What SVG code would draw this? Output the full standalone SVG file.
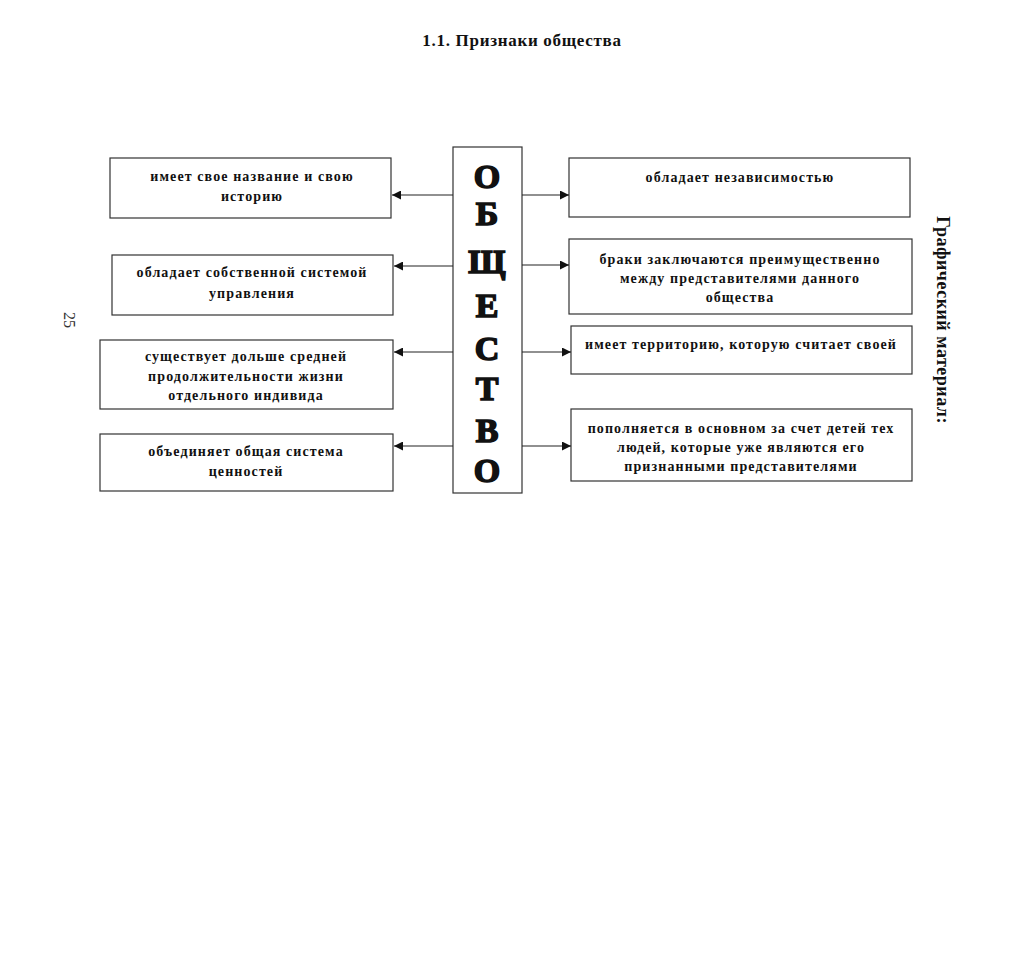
<svg xmlns="http://www.w3.org/2000/svg" width="1020" height="958" viewBox="0 0 1020 958">
<defs>
<marker id="arr" viewBox="0 0 10 10" refX="10" refY="5" markerWidth="12" markerHeight="9" markerUnits="userSpaceOnUse" orient="auto">
<path d="M0,0 L10,5 L0,10 Z" fill="#111"/>
</marker>
</defs>
<style>
.box{fill:#fff;stroke:#333;stroke-width:1.2}
.t{font-family:"Liberation Serif","DejaVu Serif",serif;font-weight:bold;font-size:14px;letter-spacing:1.1px;fill:#111;text-anchor:middle}
.big{font-family:"Liberation Serif","DejaVu Serif",serif;font-weight:bold;font-size:34px;fill:#111;stroke:#111;stroke-width:1.6;text-anchor:middle}
.ln{stroke:#222;stroke-width:1.2;fill:none;marker-end:url(#arr)}
</style>
<rect width="1020" height="958" fill="#fff"/>
<text x="522" y="46" style="font-family:'Liberation Serif',serif;font-weight:bold;font-size:17px;letter-spacing:0.7px;fill:#111;text-anchor:middle">1.1. Признаки общества</text>
<text transform="translate(64,320) rotate(90)" style="font-family:'Liberation Serif',serif;font-size:16px;fill:#333;text-anchor:middle">25</text>
<text transform="translate(937,320) rotate(90)" style="font-family:'Liberation Serif',serif;font-weight:bold;font-size:18px;letter-spacing:0.5px;fill:#111;text-anchor:middle">Графический материал:</text>
<g id="center">
<rect class="box" x="453" y="147" width="69" height="346"/>
<text class="big" x="487" y="188">О</text>
<text class="big" x="487" y="225">Б</text>
<text class="big" x="487" y="273">Щ</text>
<text class="big" x="487" y="317">Е</text>
<text class="big" x="487" y="360">С</text>
<text class="big" x="487" y="400">Т</text>
<text class="big" x="487" y="442">В</text>
<text class="big" x="487" y="482">О</text>
</g>
<g id="l1"><rect class="box" x="110" y="158" width="281" height="60"/>
<text class="t" x="252" y="181">имеет свое название и свою</text><text class="t" x="252" y="201">историю</text></g>
<g id="l2"><rect class="box" x="112" y="255" width="281" height="60"/>
<text class="t" x="252" y="277">обладает собственной системой</text><text class="t" x="252" y="298">управления</text></g>
<g id="l3"><rect class="box" x="100" y="340" width="293" height="69"/>
<text class="t" x="246" y="361">существует дольше средней</text><text class="t" x="246" y="381">продолжительности жизни</text><text class="t" x="246" y="400">отдельного индивида</text></g>
<g id="l4"><rect class="box" x="100" y="434" width="293" height="57"/>
<text class="t" x="246" y="456">объединяет общая система</text><text class="t" x="246" y="476">ценностей</text></g>
<g id="r1"><rect class="box" x="569" y="158" width="341" height="59"/>
<text class="t" x="740" y="182">обладает независимостью</text></g>
<g id="r2"><rect class="box" x="569" y="239" width="343" height="75"/>
<text class="t" x="740" y="264">браки заключаются преимущественно</text><text class="t" x="740" y="283">между представителями данного</text><text class="t" x="740" y="302">общества</text></g>
<g id="r3"><rect class="box" x="571" y="326" width="341" height="48"/>
<text class="t" x="741" y="349">имеет территорию, которую считает своей</text></g>
<g id="r4"><rect class="box" x="571" y="409" width="341" height="72"/>
<text class="t" x="741" y="433">пополняется в основном за счет детей тех</text><text class="t" x="741" y="452">людей, которые уже являются его</text><text class="t" x="741" y="471">признанными представителями</text></g>
<g id="connectors">
<line class="ln" x1="453" y1="195" x2="392" y2="195"/>
<line class="ln" x1="453" y1="266" x2="394" y2="266"/>
<line class="ln" x1="453" y1="352" x2="394" y2="352"/>
<line class="ln" x1="453" y1="446" x2="394" y2="446"/>
<line class="ln" x1="522" y1="195" x2="569" y2="195"/>
<line class="ln" x1="522" y1="265" x2="569" y2="265"/>
<line class="ln" x1="522" y1="352" x2="571" y2="352"/>
<line class="ln" x1="522" y1="446" x2="571" y2="446"/>
</g>
</svg>
